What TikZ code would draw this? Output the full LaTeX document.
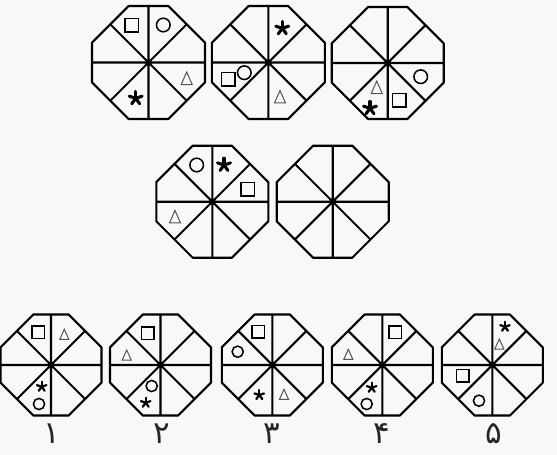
\documentclass[tikz,border=0pt]{standalone}
\usepackage{fontspec}
\newfontfamily\fadigits[Script=Arabic]{DejaVu Sans}
\TeXXeTstate=1
\definecolor{bgc}{HTML}{F8F8F8}
\definecolor{tric}{HTML}{555555}
\tikzset{
  oct/.style={line width=2.1pt, line join=round, black},
  shp/.style={line width=1.5pt, black},
  trishape/.style={line width=1.0pt, tric, line join=miter},
  lbl/.style={font=\fadigits\fontsize{31}{34}\selectfont, anchor=base, inner sep=0pt, text=black!85}
}
\newcommand\octa[3]{%
  \begin{scope}[shift={(#1,#2)}]
    \pgfmathsetmacro\octR{#3}%
    \pgfmathsetmacro\octH{0.35*#3}%
    \pgfmathsetmacro\octM{0.675*#3}%
    \draw[oct] (\octH,\octR)--(\octR,\octH)--(\octR,-\octH)--(\octH,-\octR)--(-\octH,-\octR)--(-\octR,-\octH)--(-\octR,\octH)--(-\octH,\octR)--cycle;
    \draw[oct] (0,-\octR)--(0,\octR) (-\octR,0)--(\octR,0) (-\octM,-\octM)--(\octM,\octM) (-\octM,\octM)--(\octM,-\octM);
    \fill (0,0) circle (2.8);
  \end{scope}}
% square: x y side
\newcommand\shsq[3]{\draw[shp] ($(#1,#2)+(-#3/2,-#3/2)$) rectangle ++(#3,#3);}
% circle: x y radius
\newcommand\shci[3]{\draw[shp] (#1,#2) circle (#3);}
% triangle: x y width height
\newcommand\shtr[4]{\draw[trishape] ($(#1,#2)+(0,-#4/2)$) -- ++(#3/2,#4) -- ++(-#3,0) -- cycle;}
% star: x y radius
\newcommand\shst[3]{\fill (#1,#2) circle (#3*0.35); \foreach \a in {-90,-18,54,126,198}{\draw[line width=#3*0.45pt,line cap=round] (#1,#2) -- ++(\a:#3);}}
\usetikzlibrary{calc}
\begin{document}
\begin{tikzpicture}[x=1pt,y=-1pt]
\useasboundingbox (0,0) rectangle (557,455);
\fill[bgc] (0,0) rectangle (557,455);
% top row
\octa{148.5}{62.5}{56.5}
\shsq{131.7}{25}{13.5}
\shci{163.3}{25}{6.8}
\shtr{186.7}{78.3}{11}{12.5}
\shst{135.7}{98.3}{6.8}
\octa{268.3}{62.5}{56.5}
\shst{282.3}{28.3}{6.8}
\shsq{228.3}{79}{13.5}
\shci{244.3}{72.7}{6.8}
\shtr{280}{96.7}{11}{12.5}
\octa{387.7}{63}{56}
\shci{420.7}{76.7}{6.8}
\shtr{376.7}{87.3}{11}{12.5}
\shst{370}{108.3}{6.8}
\shsq{399.3}{100}{13.5}
% middle row
\octa{212.3}{201.7}{56}
\shci{196.7}{165}{6.8}
\shst{224}{165}{6.8}
\shsq{247.7}{189.3}{13.5}
\shtr{175}{216.7}{11}{12.5}
\octa{332.7}{201.7}{56}
% bottom row
\octa{51}{365}{50.5}
\shsq{38.3}{332.3}{12.5}
\shtr{64.3}{334.3}{9}{10}
\shst{41.7}{386.7}{5}
\shci{39}{404}{5.6}
\octa{160.5}{365}{50.5}
\shsq{147.7}{333.3}{12.5}
\shtr{126.7}{355}{9}{10}
\shci{151.7}{386}{5.6}
\shst{145.7}{402.7}{5}
\octa{272.3}{365}{50.5}
\shsq{258.3}{331.7}{12.5}
\shci{237.7}{351.7}{5.6}
\shst{259.3}{395}{5}
\shtr{284}{394.3}{9}{10}
\octa{382.3}{365}{50.5}
\shsq{395}{332.3}{12.5}
\shtr{348.3}{354.3}{9}{10}
\shst{371.7}{387.7}{5}
\shci{366.7}{404}{5.6}
\octa{492.3}{365}{50.5}
\shst{505}{326.7}{5}
\shtr{499.3}{344}{9}{10}
\shsq{462.7}{375.7}{12.5}
\shci{479}{400.7}{5.6}
% labels
\node[lbl] (l1) at (52,443) {\beginR ۱\endR};
\node[lbl] (l2) at (161.5,443) {\beginR ۲\endR};
\node[lbl] (l3) at (272,443) {\beginR ۳\endR};
\node[lbl] (l4) at (382,443) {\beginR ۴\endR};
\node[lbl] (l5) at (493.5,443) {\beginR ۵\endR};
\end{tikzpicture}
\end{document}
